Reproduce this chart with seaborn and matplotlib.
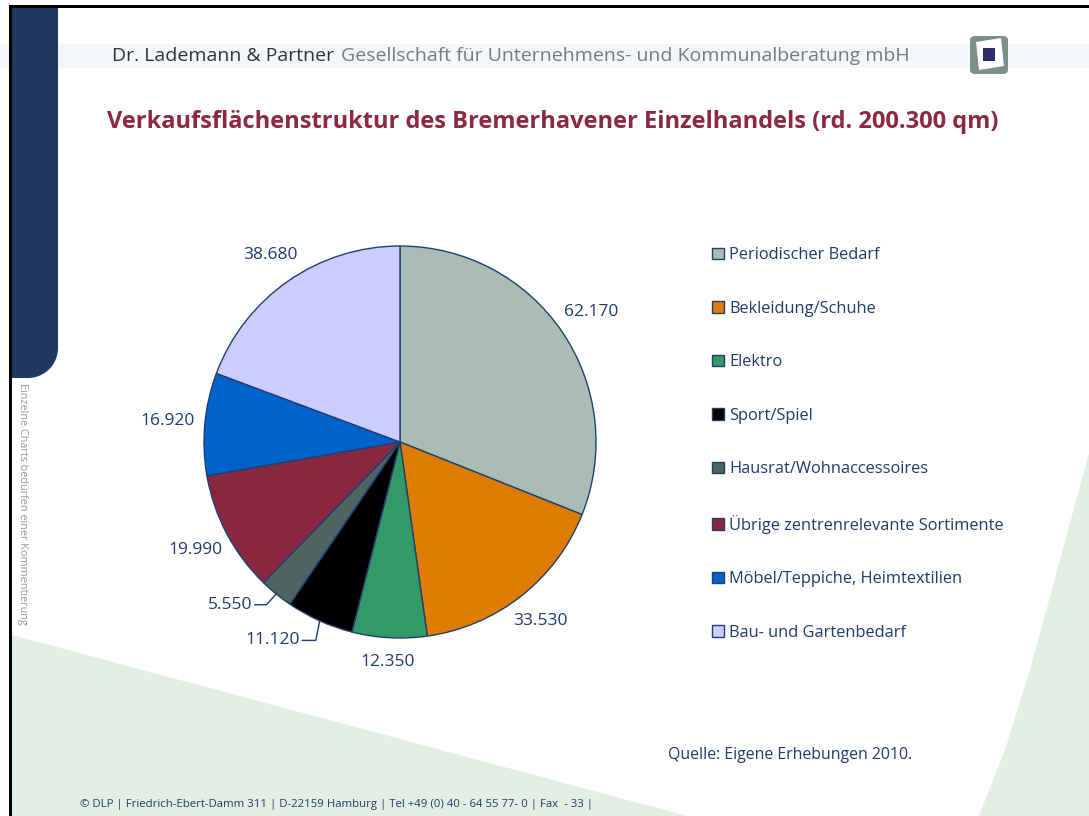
import numpy as np
import pandas as pd
import seaborn as sns
import matplotlib
matplotlib.use("Agg")
import matplotlib.pyplot as plt
from matplotlib.patches import Polygon, FancyBboxPatch

# ---------------- data ----------------
categories = [
    "Periodischer Bedarf",
    "Bekleidung/Schuhe",
    "Elektro",
    "Sport/Spiel",
    "Hausrat/Wohnaccessoires",
    "Übrige zentrenrelevante Sortimente",
    "Möbel/Teppiche, Heimtextilien",
    "Bau- und Gartenbedarf",
]
values = [62170, 33530, 12350, 11120, 5550, 19990, 16920, 38680]
value_labels = ["62.170", "33.530", "12.350", "11.120", "5.550", "19.990", "16.920", "38.680"]
colors = ["#A9BDB5", "#DE7D00", "#339966", "#000000", "#4E6562", "#8A2740", "#0063C9", "#CCCCFF"]

title = "Verkaufsflächenstruktur des Bremerhavener Einzelhandels (rd. 200.300 qm)"
header_bold = "Dr. Lademann & Partner"
header_rest = "Gesellschaft für Unternehmens- und Kommunalberatung mbH"
source = "Quelle: Eigene Erhebungen 2010."
footer = "© DLP | Friedrich-Ebert-Damm 311 | D-22159 Hamburg | Tel +49 (0) 40 - 64 55 77- 0 | Fax  - 33 |"
side_note = "Einzelne Charts bedürfen einer Kommentierung"

df = pd.DataFrame({"category": categories, "value": values, "label": value_labels, "color": colors})

# ---------------- style ----------------
sns.set_theme(style="white")
plt.rcParams["font.family"] = ["Open Sans", "DejaVu Sans"]

W, H = 1089, 816
NAVY_TXT = "#1F3C6B"
fig = plt.figure(figsize=(W / 100, H / 100), dpi=100)
fig.patch.set_facecolor("white")


def fx(x):
    return x / W


def fy(y):
    return 1 - y / H


def poly(pts, **kw):
    p = Polygon([(fx(x), fy(y)) for x, y in pts], closed=True, transform=fig.transFigure, **kw)
    fig.add_artist(p)
    return p


# background decorations
GREEN = "#E3EEE5"
poly([(12, 635), (687, 816), (12, 816)], facecolor=GREEN, edgecolor="none", zorder=0)
poly([(1089, 453), (1060, 560), (1030, 670), (1005, 750), (979, 816), (1089, 816)],
     facecolor=GREEN, edgecolor="none", zorder=0)

# faint header stripe
poly([(0, 44), (1089, 44), (1089, 68), (0, 68)], facecolor="#EEF2F6", edgecolor="none", zorder=0, alpha=0.6)

# navy band with rounded bottom-right corner
r = 30
theta = np.linspace(0, -np.pi / 2, 20)
arc = [(58 - r + r * np.cos(t), 378 - r - r * np.sin(t)) for t in theta]
band = [(12, 8), (58, 8)] + arc + [(12, 378)]
poly(band, facecolor="#1E3A5F", edgecolor="none", zorder=1)

# black frame lines
poly([(9, 5), (1089, 5), (1089, 8), (9, 8)], facecolor="black", edgecolor="none", zorder=2)
poly([(9, 5), (12, 5), (12, 816), (9, 816)], facecolor="black", edgecolor="none", zorder=2)

# logo
logo = FancyBboxPatch((fx(970), fy(74)), fx(38), 38 / H, boxstyle="round,pad=0,rounding_size=0.005",
                      transform=fig.transFigure, facecolor="#7D8F8A", edgecolor="none", zorder=2)
fig.add_artist(logo)
poly([(976, 42), (1001, 38), (1004, 66), (979, 70)], facecolor="white", edgecolor="none", zorder=3)
poly([(983, 48), (995, 48), (995, 61), (983, 61)], facecolor="#2C2F6B", edgecolor="none", zorder=4)

# header texts
t1 = fig.text(fx(112), fy(56), header_bold, fontsize=14, color="#333333", va="center", ha="left")
fig.canvas.draw()
bb = t1.get_window_extent()
fig.text(bb.x1 / W + fx(7), fy(56), header_rest, fontsize=14, color="#7A7A7A", va="center", ha="left")

# title
fig.text(fx(553), fy(122), title, fontsize=17, fontweight="bold", color="#8B2942", va="center", ha="center")

# side note
fig.text(fx(22), fy(504), side_note, fontsize=7.8, color="#9A9A9A", rotation=-90, va="center", ha="center")

# source & footer
fig.text(fx(668), fy(755), source, fontsize=11.4, color=NAVY_TXT, va="center", ha="left")
fig.text(fx(80), fy(805), footer, fontsize=8.2, color=NAVY_TXT, va="center", ha="left")

# ---------------- pie ----------------
R_PX = 196
cx, cy = 400, 442
ax = fig.add_axes([fx(cx - R_PX), fy(cy + R_PX), 2 * R_PX / W, 2 * R_PX / H])
wedges, _ = ax.pie(df["value"], colors=df["color"], startangle=90, counterclock=False, radius=1,
                   wedgeprops=dict(edgecolor="#1F3F6E", linewidth=1.0))
ax.set_xlim(-1, 1)
ax.set_ylim(-1, 1)
ax.set_aspect("equal")
ax.axis("off")

leader = {
    "11.120": dict(knee=(-0.02, -0.10), end=(-0.09, -0.10), text=(-0.10, -0.10)),
    "5.550": dict(knee=(-0.05, -0.055), end=(-0.11, -0.055), text=(-0.12, -0.055)),
}

for w, lab in zip(wedges, df["label"]):
    ang = np.deg2rad((w.theta1 + w.theta2) / 2)
    ux, uy = np.cos(ang), np.sin(ang)
    if lab in leader:
        spec = leader[lab]
        ex, ey = ux, uy
        kx, ky = ex + spec["knee"][0], ey + spec["knee"][1]
        lx, ly = ex + spec["end"][0], ey + spec["end"][1]
        ax.plot([ex, kx, lx], [ey, ky, ly], color=NAVY_TXT, lw=1.0, clip_on=False)
        ax.text(ex + spec["text"][0], ey + spec["text"][1], lab, ha="right", va="center",
                fontsize=12.5, color=NAVY_TXT)
    else:
        d = 1.12 + 0.07 * abs(ux)
        ax.text(d * ux, d * uy, lab, ha="center", va="center", fontsize=12.5, color=NAVY_TXT)

# legend
leg = fig.legend(wedges, df["category"], loc="upper left", bbox_to_anchor=(fx(704), fy(239)),
                 frameon=False, fontsize=11.8, labelcolor=NAVY_TXT, handlelength=0.7, handleheight=0.7,
                 handletextpad=0.35, labelspacing=2.29, borderpad=0)

fig.savefig("out.png", dpi=100)
